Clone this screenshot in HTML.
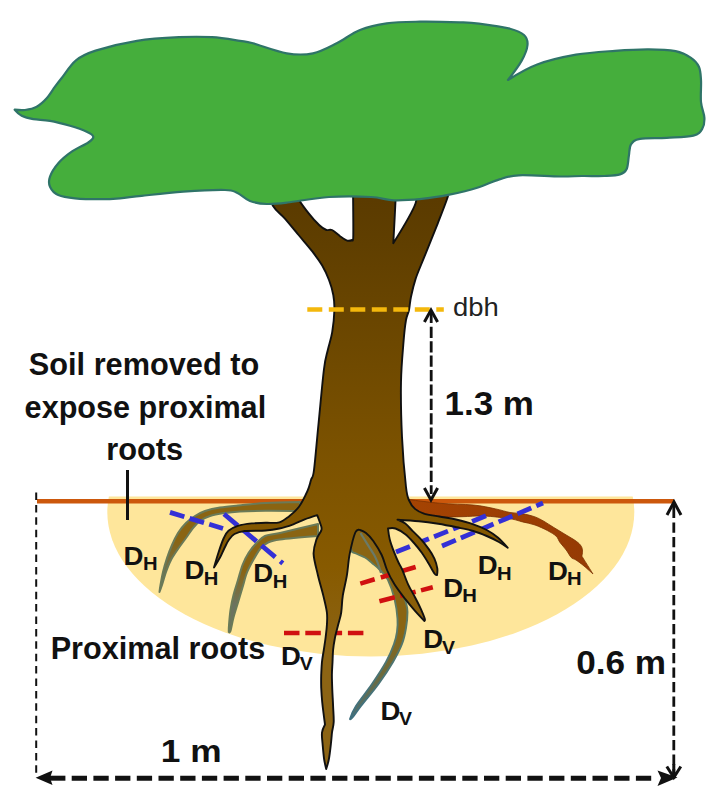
<!DOCTYPE html>
<html><head><meta charset="utf-8"><style>
html,body{margin:0;padding:0;background:#fff;}
body{width:720px;height:801px;overflow:hidden;font-family:"Liberation Sans",sans-serif;}
svg{display:block;}
</style></head><body>
<svg width="720" height="801" viewBox="0 0 720 801">
<defs>
<linearGradient id="tg" x1="0" y1="200" x2="0" y2="650" gradientUnits="userSpaceOnUse">
<stop offset="0" stop-color="#5b3b00"/><stop offset="0.1" stop-color="#603f00"/><stop offset="0.589" stop-color="#7d5300"/><stop offset="0.816" stop-color="#875a00"/><stop offset="1" stop-color="#8c6414"/></linearGradient>
<linearGradient id="rg" x1="400" y1="0" x2="590" y2="0" gradientUnits="userSpaceOnUse">
<stop offset="0" stop-color="#a64402"/><stop offset="1" stop-color="#953a04"/></linearGradient>
<linearGradient id="dvg" x1="0" y1="630" x2="0" y2="715" gradientUnits="userSpaceOnUse">
<stop offset="0" stop-color="#8a6412"/><stop offset="0.5" stop-color="#6e6a3a"/><stop offset="1" stop-color="#4f7070"/></linearGradient>
<linearGradient id="dvs" x1="0" y1="600" x2="0" y2="720" gradientUnits="userSpaceOnUse">
<stop offset="0" stop-color="#5f7a60"/><stop offset="1" stop-color="#3f7080"/></linearGradient>
<linearGradient id="g1" x1="0" y1="540" x2="0" y2="575" gradientUnits="userSpaceOnUse">
<stop offset="0" stop-color="#8a6412"/><stop offset="1" stop-color="#6b7355"/></linearGradient>
<linearGradient id="g3" x1="0" y1="570" x2="0" y2="605" gradientUnits="userSpaceOnUse">
<stop offset="0" stop-color="#8a6412"/><stop offset="1" stop-color="#6b7360"/></linearGradient>
</defs>
<rect width="720" height="801" fill="#fff"/>
<clipPath id="sc"><rect x="0" y="496.5" width="720" height="300"/></clipPath>
<ellipse cx="370.8" cy="512" rx="263.5" ry="144.5" fill="#fee69b" clip-path="url(#sc)"/>
<line x1="37" y1="501.3" x2="674" y2="501.3" stroke="#cc580c" stroke-width="4.6"/>
<path d="M300.0,502.0 C300.0,502.0 276.0,502.4 265.6,503.0 C255.2,503.6 245.4,504.8 237.8,505.5 C230.2,506.2 225.5,506.6 220.0,507.5 C214.5,508.4 209.2,509.6 205.0,511.0 C200.8,512.4 198.2,514.0 195.0,516.0 C191.8,518.0 188.8,520.2 186.0,523.0 C183.2,525.8 180.3,529.3 178.0,533.0 C175.7,536.7 173.8,540.8 172.0,545.0 C170.2,549.2 168.5,553.5 167.0,558.0 C165.5,562.5 164.1,567.5 163.0,572.0 C161.9,576.5 161.1,581.7 160.5,585.0 C159.9,588.3 159.5,592.0 159.5,592.0 C159.5,592.0 160.9,588.3 162.0,585.0 C163.1,581.7 164.5,576.2 166.0,572.0 C167.5,567.8 169.0,563.8 171.0,560.0 C173.0,556.2 175.5,552.7 178.0,549.0 C180.5,545.3 183.5,541.5 186.0,538.0 C188.5,534.5 190.7,530.8 193.0,528.0 C195.3,525.2 197.2,523.0 200.0,521.0 C202.8,519.0 205.8,517.3 210.0,516.0 C214.2,514.7 220.0,513.8 225.0,513.0 C230.0,512.2 233.2,511.9 240.0,511.5 C246.8,511.1 255.6,510.9 265.6,510.8 C275.6,510.7 300.0,511.0 300.0,511.0 C300.0,511.0 300.0,502.0 300.0,502.0Z" fill="url(#g1)" stroke="#6a7a58" stroke-width="2" stroke-linejoin="round"/>
<path d="M318.0,524.0 C318.0,524.0 288.8,531.0 280.0,533.0 C271.2,535.0 269.0,534.2 265.0,536.0 C261.0,537.8 258.8,540.7 256.0,543.5 C253.2,546.3 250.8,549.4 248.5,553.0 C246.2,556.6 244.2,560.5 242.5,565.0 C240.8,569.5 239.5,575.0 238.0,580.0 C236.5,585.0 234.8,590.0 233.5,595.0 C232.2,600.0 231.2,605.0 230.5,610.0 C229.8,615.0 229.3,621.3 229.0,625.0 C228.7,628.7 228.8,632.0 228.8,632.0 C228.8,632.0 229.7,633.4 230.5,631.0 C231.3,628.6 232.2,622.2 233.5,617.5 C234.8,612.8 236.5,607.5 238.0,602.5 C239.5,597.5 241.0,592.5 242.5,587.5 C244.0,582.5 245.2,577.0 247.0,572.5 C248.8,568.0 250.8,564.5 253.0,560.5 C255.2,556.5 258.0,551.5 260.5,548.5 C263.0,545.5 264.8,544.0 268.0,542.5 C271.2,541.0 271.7,540.6 280.0,539.5 C288.3,538.4 318.0,536.0 318.0,536.0 C318.0,536.0 318.0,524.0 318.0,524.0Z" fill="url(#g3)" stroke="#6a7a58" stroke-width="2" stroke-linejoin="round"/>
<path d="M352.0,524.0 C352.0,524.0 350.3,544.1 351.0,549.0 C351.7,553.9 353.7,552.1 356.0,553.5 C358.3,554.9 362.3,555.9 365.0,557.5 C367.7,559.1 369.5,560.9 372.0,563.0 C374.5,565.1 377.4,567.2 380.0,570.0 C382.6,572.8 385.4,574.8 387.8,579.7 C390.2,584.6 393.0,592.7 394.6,599.2 C396.2,605.7 397.1,613.1 397.5,618.6 C397.9,624.1 397.6,627.8 397.0,632.0 C396.4,636.2 395.8,639.0 394.0,644.0 C392.2,649.0 389.7,655.3 386.0,662.0 C382.3,668.7 377.0,676.7 372.0,684.0 C367.0,691.3 359.7,700.2 356.0,706.0 C352.3,711.8 350.0,719.0 350.0,719.0 C350.0,719.0 350.2,720.2 352.0,718.0 C353.8,715.8 356.6,711.7 361.0,706.0 C365.4,700.3 373.2,691.3 378.5,684.0 C383.8,676.7 389.1,668.7 393.0,662.0 C396.9,655.3 399.8,649.7 402.0,644.0 C404.2,638.3 405.1,633.3 406.0,628.0 C406.9,622.7 407.5,616.2 407.5,612.0 C407.5,607.8 406.9,606.7 406.0,603.0 C405.1,599.3 403.8,594.7 402.0,590.0 C400.2,585.3 397.3,580.0 395.0,575.0 C392.7,570.0 390.5,565.0 388.0,560.0 C385.5,555.0 382.7,551.0 380.0,545.0 C377.3,539.0 372.0,524.0 372.0,524.0 C372.0,524.0 352.0,524.0 352.0,524.0Z" fill="url(#dvg)" stroke="url(#dvs)" stroke-width="1.9" stroke-linejoin="round"/>
<path d="M360.5,533 C364,539 370,548 374.2,555 C377,560 379,566 381,573" fill="none" stroke="#6a7a68" stroke-width="2.2"/>
<line x1="284" y1="633" x2="366" y2="633" stroke="#d01010" stroke-width="4.6" stroke-dasharray="15.5,5.8"/>
<path d="M405.0,499.0 C405.0,499.0 428.6,502.3 440.0,503.3 C451.4,504.3 464.0,504.1 473.3,505.0 C482.6,505.9 489.5,507.6 495.6,508.9 C501.7,510.1 505.5,511.7 510.0,512.5 C514.5,513.3 518.3,513.0 522.5,513.8 C526.7,514.5 531.5,515.6 535.0,516.9 C538.5,518.1 540.6,519.5 543.8,521.2 C546.9,523.0 550.0,525.2 553.8,527.5 C557.5,529.8 562.5,532.7 566.2,535.0 C570.0,537.3 573.8,539.4 576.2,541.2 C578.8,543.1 580.2,544.6 581.2,546.2 C582.3,547.9 582.4,549.6 582.5,551.2 C582.6,552.9 581.9,556.2 581.9,556.2 C581.9,556.2 593.0,574.0 593.0,574.0 C593.0,574.0 586.8,568.3 584.0,566.0 C581.2,563.7 578.1,561.4 576.0,560.0 C573.9,558.6 572.9,559.2 571.2,557.5 C569.6,555.8 568.1,552.5 566.2,550.0 C564.4,547.5 561.7,544.8 560.0,542.5 C558.3,540.2 558.3,538.2 556.2,536.2 C554.2,534.3 551.0,532.5 547.5,530.6 C544.0,528.7 539.2,526.5 535.0,525.0 C530.8,523.5 526.7,522.9 522.5,521.9 C518.3,520.9 516.4,519.7 510.0,518.8 C503.6,517.8 492.0,516.3 484.0,516.0 C476.0,515.7 469.3,516.6 462.0,516.7 C454.7,516.8 446.3,517.3 440.0,516.7 C433.7,516.1 428.7,514.8 424.0,513.3 C419.3,511.8 412.0,508.0 412.0,508.0 C412.0,508.0 405.0,499.0 405.0,499.0Z" fill="url(#rg)" stroke="#7a3000" stroke-width="0.8" stroke-linejoin="round"/>
<line x1="170" y1="512.4" x2="223" y2="528.5" stroke="#3430d6" stroke-width="4.8" stroke-dasharray="15,5.5"/>
<line x1="224" y1="514" x2="282.8" y2="563.4" stroke="#3430d6" stroke-width="4.8" stroke-dasharray="18,6.5"/>
<line x1="396" y1="552" x2="488" y2="515" stroke="#3430d6" stroke-width="4.8" stroke-dasharray="15,5.5"/>
<line x1="442" y1="546" x2="543" y2="503" stroke="#3430d6" stroke-width="4.8" stroke-dasharray="15,5.5"/>
<line x1="360.3" y1="583.6" x2="416.3" y2="566.8" stroke="#d01010" stroke-width="4.6" stroke-dasharray="15,6.4"/>
<line x1="379.4" y1="601.3" x2="432.8" y2="587.3" stroke="#d01010" stroke-width="4.6" stroke-dasharray="16,5.5"/>
<path d="M266.0,186.0 C266.0,186.0 269.8,200.4 272.9,205.8 C276.0,211.2 280.4,213.4 284.7,218.3 C289.0,223.2 294.0,229.4 298.6,235.0 C303.2,240.6 308.6,246.6 312.5,251.7 C316.4,256.8 319.4,260.9 322.2,265.6 C324.9,270.3 327.1,275.1 329.0,280.0 C330.9,284.9 332.4,290.0 333.3,295.0 C334.2,300.0 334.6,303.8 334.4,310.0 C334.2,316.2 333.3,325.5 332.2,332.2 C331.1,338.9 329.2,343.9 327.8,350.0 C326.4,356.1 325.6,356.7 324.0,369.0 C322.4,381.3 320.2,407.2 318.5,424.0 C316.8,440.8 315.2,460.7 314.0,470.0 C312.8,479.3 312.1,476.5 311.0,480.0 C309.9,483.5 309.5,486.4 307.5,490.8 C305.5,495.2 302.1,502.4 299.0,506.7 C295.9,511.0 292.3,513.8 289.0,516.4 C285.7,519.0 283.3,521.2 279.4,522.3 C275.5,523.4 270.2,522.6 265.6,522.8 C261.0,523.0 256.3,522.9 251.7,523.4 C247.1,523.9 241.7,524.6 237.8,525.8 C233.9,527.0 230.8,528.8 228.5,530.8 C226.2,532.8 225.5,534.4 223.8,538.0 C222.1,541.6 220.1,547.6 218.5,552.5 C216.9,557.4 214.0,567.5 214.0,567.5 C214.0,567.5 218.2,560.8 220.0,557.5 C221.8,554.2 223.0,550.9 224.5,548.0 C226.0,545.1 227.1,542.3 228.8,540.0 C230.5,537.7 231.8,535.5 234.5,534.0 C237.2,532.5 239.5,531.6 244.7,531.0 C249.9,530.4 259.8,530.9 265.6,530.5 C271.4,530.1 274.8,529.5 279.4,528.5 C284.0,527.5 289.1,525.8 293.3,524.3 C297.5,522.8 300.7,520.8 304.7,519.3 C308.7,517.8 317.2,515.1 317.2,515.1 C317.2,515.1 319.3,520.4 320.0,522.8 C320.7,525.2 322.1,526.9 321.5,529.7 C320.9,532.5 317.8,535.4 316.5,539.4 C315.2,543.4 313.4,548.0 313.6,553.9 C313.8,559.8 316.2,567.8 317.8,574.7 C319.4,581.7 321.8,589.3 323.3,595.6 C324.8,601.9 326.3,607.6 326.9,612.5 C327.5,617.4 327.1,620.8 326.9,625.0 C326.7,629.2 326.1,633.3 325.6,637.5 C325.1,641.7 324.4,645.8 323.8,650.0 C323.1,654.2 322.3,658.3 321.9,662.5 C321.5,666.7 321.4,670.8 321.2,675.0 C321.1,679.2 321.1,683.0 321.2,687.5 C321.4,692.0 321.6,695.8 322.2,702.0 C322.8,708.2 325.0,724.5 325.0,724.5 C325.0,724.5 322.4,729.4 322.0,732.5 C321.6,735.6 322.1,738.6 322.5,743.0 C322.9,747.4 323.5,754.7 324.1,759.0 C324.7,763.3 326.2,769.0 326.2,769.0 C326.2,769.0 328.1,763.3 328.9,759.0 C329.7,754.7 330.5,747.4 331.0,743.0 C331.5,738.6 331.6,736.0 332.0,732.5 C332.4,729.0 333.5,726.4 333.7,722.0 C333.9,717.6 333.3,711.3 333.1,706.0 C332.9,700.7 332.5,695.2 332.3,690.0 C332.1,684.8 331.9,679.6 331.9,675.0 C331.9,670.4 332.3,666.7 332.5,662.5 C332.7,658.3 332.7,654.2 333.1,650.0 C333.5,645.8 334.2,641.7 335.0,637.5 C335.8,633.3 337.1,629.2 338.1,625.0 C339.1,620.8 340.5,617.4 341.2,612.5 C342.0,607.6 341.8,601.9 342.8,595.6 C343.8,589.3 345.9,581.7 347.0,574.7 C348.1,567.8 348.3,560.9 349.7,553.9 C351.1,546.9 353.6,536.5 355.3,532.5 C357.0,528.5 360.0,530.0 360.0,530.0 C360.0,530.0 363.8,531.2 366.0,533.0 C368.2,534.8 370.7,537.3 373.3,541.0 C375.9,544.7 379.4,550.2 381.7,555.0 C384.0,559.8 384.9,565.1 387.0,570.0 C389.1,574.9 391.6,579.7 394.6,584.6 C397.7,589.5 401.9,594.8 405.3,599.2 C408.7,603.6 411.8,607.2 415.0,610.8 C418.2,614.4 424.5,621.0 424.5,621.0 C424.5,621.0 425.3,620.6 424.7,618.6 C424.1,616.6 422.4,612.5 420.8,608.9 C419.2,605.3 417.1,601.2 415.0,597.2 C412.9,593.2 410.3,589.1 408.2,584.6 C406.1,580.1 404.0,573.7 402.4,570.0 C400.8,566.3 400.0,565.7 398.5,562.5 C397.0,559.3 395.1,554.7 393.6,550.8 C392.1,546.9 390.6,542.9 389.7,539.2 C388.8,535.5 388.0,528.5 388.0,528.5 C388.0,528.5 392.6,527.5 395.5,528.5 C398.4,529.5 402.2,531.9 405.3,534.3 C408.4,536.7 411.2,539.9 414.0,543.0 C416.8,546.1 419.4,549.4 421.8,552.8 C424.2,556.2 426.5,560.0 428.6,563.5 C430.7,567.0 433.0,571.6 434.4,573.5 C435.8,575.4 437.0,575.0 437.0,575.0 C437.0,575.0 437.7,571.0 437.3,568.3 C436.9,565.6 435.8,561.8 434.4,558.6 C432.9,555.4 430.9,552.1 428.6,548.9 C426.3,545.7 423.4,542.1 420.8,539.2 C418.2,536.3 415.6,534.0 413.0,531.4 C410.4,528.8 407.9,525.5 405.3,523.6 C402.7,521.7 397.5,519.7 397.5,519.7 C397.5,519.7 412.1,520.5 418.9,521.2 C425.7,521.9 432.0,522.8 438.3,523.8 C444.6,524.8 450.9,526.1 456.7,527.3 C462.5,528.5 468.3,529.5 473.3,531.0 C478.3,532.5 482.4,534.2 486.7,536.0 C491.0,537.8 495.4,540.0 498.9,542.0 C502.4,544.0 507.8,547.8 507.8,547.8 C507.8,547.8 501.3,540.5 497.8,537.5 C494.3,534.5 490.8,532.2 486.7,530.0 C482.6,527.8 478.4,526.0 473.3,524.3 C468.2,522.5 461.6,520.8 456.0,519.5 C450.4,518.2 444.8,517.5 439.4,516.5 C434.0,515.5 428.0,514.9 423.9,513.6 C419.8,512.3 417.4,511.0 415.0,508.9 C412.6,506.8 410.9,504.8 409.4,501.1 C407.9,497.5 407.2,497.7 406.0,487.0 C404.8,476.3 402.8,454.5 402.0,437.0 C401.2,419.5 400.7,398.0 401.0,382.0 C401.3,366.0 402.8,351.3 403.6,341.0 C404.4,330.7 405.1,325.2 406.0,320.0 C406.9,314.8 408.2,313.9 409.0,310.0 C409.8,306.1 409.9,301.9 411.0,296.7 C412.1,291.5 413.4,285.6 415.6,278.9 C417.8,272.2 420.7,266.0 424.4,256.7 C428.1,247.4 433.9,233.3 437.8,223.3 C441.7,213.3 445.8,202.9 447.8,196.7 C449.8,190.5 450.0,186.0 450.0,186.0 C450.0,186.0 413.0,186.0 413.0,186.0 C413.0,186.0 418.9,193.8 415.6,203.3 C412.3,212.9 393.3,243.3 393.3,243.3 C393.3,243.3 395.2,208.5 395.6,198.9 C396.1,189.3 396.0,186.0 396.0,186.0 C396.0,186.0 353.0,186.0 353.0,186.0 C353.0,186.0 353.4,225.4 353.3,234.4 C353.2,243.4 352.2,240.0 352.2,240.0 C352.2,240.0 349.2,241.2 347.2,240.6 C345.2,240.0 342.8,238.2 340.3,236.4 C337.8,234.6 334.3,231.1 332.0,230.0 C329.7,228.9 328.5,230.8 326.4,230.0 C324.3,229.2 322.4,228.2 319.4,225.3 C316.4,222.4 311.6,217.0 308.3,212.8 C305.0,208.6 301.7,204.8 299.3,200.3 C296.9,195.8 294.0,186.0 294.0,186.0 C294.0,186.0 266.0,186.0 266.0,186.0Z" fill="url(#tg)" stroke="#111" stroke-width="1.9" stroke-linejoin="round"/>
<path d="M14.7,109.7 C14.7,109.7 21.3,110.5 25.0,110.0 C28.7,109.5 33.1,108.7 36.7,106.7 C40.3,104.8 43.7,101.6 46.7,98.3 C49.8,95.0 52.5,90.1 55.0,86.7 C57.5,83.3 58.2,82.4 61.7,78.0 C65.2,73.6 70.3,64.9 76.0,60.3 C81.7,55.7 85.4,53.9 95.6,50.6 C105.8,47.4 123.1,43.0 137.0,40.8 C150.9,38.6 166.5,37.8 179.0,37.2 C191.5,36.6 201.8,36.6 212.0,37.2 C222.2,37.8 233.2,39.8 240.0,40.8 C246.8,41.8 245.2,41.2 253.0,43.3 C260.8,45.4 276.7,51.6 286.7,53.3 C296.7,55.0 304.7,55.0 313.0,53.3 C321.3,51.6 328.9,47.2 336.7,43.3 C344.5,39.4 351.7,33.3 360.0,30.0 C368.3,26.7 376.7,24.7 386.7,23.3 C396.7,21.9 407.8,21.9 420.0,21.7 C432.2,21.5 450.2,22.0 460.0,22.3 C469.8,22.6 470.6,22.5 478.9,23.6 C487.2,24.7 502.5,26.8 510.0,28.7 C517.5,30.6 521.1,32.3 524.0,35.0 C526.9,37.7 527.9,40.7 527.5,45.0 C527.1,49.3 525.0,54.8 521.7,60.6 C518.5,66.4 508.0,80.0 508.0,80.0 C508.0,80.0 525.9,68.7 537.2,64.5 C548.5,60.3 563.0,57.0 576.0,54.7 C589.0,52.4 602.9,51.7 615.0,50.8 C627.1,49.9 638.8,49.2 648.9,49.3 C659.0,49.3 668.6,49.7 675.6,51.1 C682.6,52.5 687.1,55.2 691.0,57.8 C694.9,60.4 697.2,63.0 698.9,66.7 C700.6,70.4 700.6,74.1 701.0,80.0 C701.4,85.9 700.4,95.9 701.0,102.2 C701.6,108.5 704.2,113.3 704.4,117.8 C704.6,122.2 704.1,125.9 702.2,128.9 C700.4,131.9 699.2,134.1 693.3,135.6 C687.4,137.1 675.6,137.2 666.7,137.8 C657.8,138.4 646.0,137.8 640.0,138.9 C634.0,140.0 632.9,141.6 631.0,144.4 C629.1,147.2 629.6,151.5 628.9,155.6 C628.2,159.7 628.2,165.8 626.7,168.9 C625.2,172.0 623.7,173.2 620.0,174.4 C616.3,175.6 610.7,175.7 604.4,176.0 C598.1,176.3 589.4,175.9 582.0,176.0 C574.6,176.1 570.5,176.6 560.0,176.5 C549.5,176.4 529.0,174.8 518.9,175.3 C508.8,175.8 506.3,177.3 499.4,179.4 C492.4,181.5 485.5,185.2 477.2,187.8 C468.9,190.4 458.6,192.8 449.4,194.7 C440.1,196.5 430.9,198.0 421.7,198.9 C412.4,199.8 402.3,200.6 393.9,200.3 C385.4,200.0 381.8,197.6 371.0,197.0 C360.2,196.4 342.9,196.1 329.0,197.0 C315.1,197.9 297.9,201.3 287.5,202.5 C277.1,203.7 272.9,204.2 266.7,204.0 C260.4,203.8 254.9,202.8 250.0,201.0 C245.1,199.2 241.7,194.8 237.5,193.0 C233.3,191.2 234.0,190.2 225.0,190.0 C216.0,189.8 197.2,190.7 183.3,191.7 C169.4,192.7 152.2,194.7 141.7,195.8 C131.1,196.9 127.0,197.7 120.0,198.3 C113.0,198.9 107.5,199.2 100.0,199.2 C92.5,199.2 82.0,199.0 75.0,198.3 C68.0,197.6 62.5,196.9 58.3,195.0 C54.1,193.1 51.4,189.8 50.0,186.7 C48.6,183.6 48.6,180.6 50.0,176.7 C51.4,172.8 54.7,167.5 58.3,163.3 C61.9,159.1 66.7,155.2 71.7,151.7 C76.7,148.2 84.7,145.0 88.3,142.5 C91.9,140.0 93.6,138.5 93.3,136.7 C93.0,134.9 90.6,133.5 86.7,131.7 C82.8,129.9 76.1,127.6 70.0,125.8 C63.9,124.0 56.1,121.9 50.0,120.8 C43.9,119.7 38.0,120.0 33.3,119.2 C28.6,118.4 24.8,117.4 21.7,115.8 C18.6,114.2 14.7,109.7 14.7,109.7Z" fill="#45ae3c" stroke="#2f7468" stroke-width="2.2" stroke-linejoin="round"/>
<line x1="307.3" y1="309.5" x2="443.8" y2="309.5" stroke="#f4b80c" stroke-width="4.6" stroke-dasharray="15,6.5"/>
<line x1="431.2" y1="326.8" x2="431.2" y2="494" stroke="#111" stroke-width="2.8" stroke-dasharray="11.2,3.2"/>
<line x1="431.2" y1="312" x2="431.2" y2="323" stroke="#111" stroke-width="2.8"/>
<path d="M424.4,322 L431,310 L437.6,322" fill="none" stroke="#111" stroke-width="3"/>
<path d="M424.4,488 L431,500 L437.6,488" fill="none" stroke="#111" stroke-width="3"/>
<line x1="673.8" y1="504" x2="673.8" y2="518" stroke="#111" stroke-width="2.8"/>
<line x1="673.8" y1="522.5" x2="673.8" y2="772" stroke="#111" stroke-width="2.8" stroke-dasharray="10.3,4.2"/>
<path d="M667,515 L674,502 L681,515" fill="none" stroke="#111" stroke-width="3"/>
<path d="M666.8,766.5 L673.8,777.5 L680.8,766.5 M673.8,764 L673.8,777" fill="none" stroke="#111" stroke-width="3"/>
<line x1="36.2" y1="492.5" x2="36.2" y2="776" stroke="#111" stroke-width="2" stroke-dasharray="7.5,4.9"/>
<line x1="48" y1="778.2" x2="65.4" y2="778.2" stroke="#111" stroke-width="5"/>
<line x1="71.7" y1="778.2" x2="651.8" y2="778.2" stroke="#111" stroke-width="5" stroke-dasharray="15.3,6.4"/>
<path d="M35.6,777.8 L52.5,770.5 L50,778 L52.5,785 Z" fill="#111"/>
<path d="M677.5,777.5 L657.5,770.5 L661,778 L657.5,786 Z" fill="#111"/>
<line x1="127.5" y1="470" x2="127.5" y2="520" stroke="#111" stroke-width="3"/>
<g font-family="&quot;Liberation Sans&quot;, sans-serif">
<text x="28.84" y="375.00" font-size="31.80" font-weight="bold" fill="#111" textLength="230.34" lengthAdjust="spacingAndGlyphs">Soil removed to</text>
<text x="24.61" y="418.00" font-size="31.80" font-weight="bold" fill="#111" textLength="241.54" lengthAdjust="spacingAndGlyphs">expose proximal</text>
<text x="106.30" y="459.90" font-size="31.80" font-weight="bold" fill="#111" textLength="76.93" lengthAdjust="spacingAndGlyphs">roots</text>
<text x="50.68" y="659.30" font-size="31.00" font-weight="bold" fill="#111" textLength="214.55" lengthAdjust="spacingAndGlyphs">Proximal roots</text>
<text x="444.53" y="415.00" font-size="33.50" font-weight="bold" fill="#111" textLength="89.40" lengthAdjust="spacingAndGlyphs">1.3 m</text>
<text x="576.23" y="674.20" font-size="33.00" font-weight="bold" fill="#111" textLength="89.92" lengthAdjust="spacingAndGlyphs">0.6 m</text>
<text x="160.81" y="762.00" font-size="32.00" font-weight="bold" fill="#111" textLength="60.85" lengthAdjust="spacingAndGlyphs">1 m</text>
<text x="452.95" y="315.75" font-size="26.30" font-weight="normal" fill="#222" textLength="45.72" lengthAdjust="spacingAndGlyphs">dbh</text>
<text font-size="25.58" font-weight="bold" fill="#111" transform="matrix(1.077,0,0,1,123.56,564.65)">D</text>
<text font-size="19.04" font-weight="bold" fill="#111" transform="matrix(1.063,0,0,1,143.00,570.40)">H</text>
<text font-size="25.58" font-weight="bold" fill="#111" transform="matrix(1.077,0,0,1,184.61,579.25)">D</text>
<text font-size="19.04" font-weight="bold" fill="#111" transform="matrix(1.063,0,0,1,203.87,584.70)">H</text>
<text font-size="25.58" font-weight="bold" fill="#111" transform="matrix(1.077,0,0,1,253.26,582.30)">D</text>
<text font-size="19.04" font-weight="bold" fill="#111" transform="matrix(1.063,0,0,1,272.70,588.12)">H</text>
<text font-size="25.58" font-weight="bold" fill="#111" transform="matrix(1.077,0,0,1,477.86,574.15)">D</text>
<text font-size="19.04" font-weight="bold" fill="#111" transform="matrix(1.063,0,0,1,497.00,579.50)">H</text>
<text font-size="25.58" font-weight="bold" fill="#111" transform="matrix(1.077,0,0,1,548.11,579.85)">D</text>
<text font-size="19.04" font-weight="bold" fill="#111" transform="matrix(1.063,0,0,1,566.97,585.15)">H</text>
<text font-size="25.58" font-weight="bold" fill="#111" transform="matrix(1.077,0,0,1,443.26,597.00)">D</text>
<text font-size="19.04" font-weight="bold" fill="#111" transform="matrix(1.063,0,0,1,462.20,602.38)">H</text>
<text font-size="25.58" font-weight="bold" fill="#111" transform="matrix(1.077,0,0,1,280.96,664.90)">D</text>
<text font-size="18.60" font-weight="bold" fill="#111" transform="matrix(1.045,0,0,1,299.77,670.03)">V</text>
<text font-size="25.58" font-weight="bold" fill="#111" transform="matrix(1.077,0,0,1,423.31,648.20)">D</text>
<text font-size="18.60" font-weight="bold" fill="#111" transform="matrix(1.045,0,0,1,442.04,653.77)">V</text>
<text font-size="25.58" font-weight="bold" fill="#111" transform="matrix(1.077,0,0,1,380.46,720.15)">D</text>
<text font-size="18.60" font-weight="bold" fill="#111" transform="matrix(1.045,0,0,1,399.02,725.45)">V</text>
</g>
</svg>
</body></html>
